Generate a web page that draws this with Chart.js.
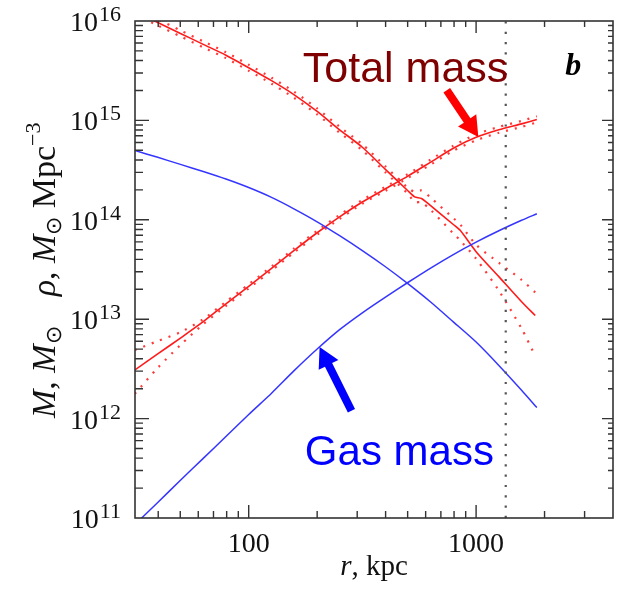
<!DOCTYPE html>
<html>
<head>
<meta charset="utf-8">
<script src="https://cdn.jsdelivr.net/npm/chart.js@4.4.0/dist/chart.umd.min.js"></script>
<style>
  body { margin: 0; background: #fff; }
  canvas { display: block; }
</style>
</head>
<body>
<canvas id="profile" width="621" height="591"></canvas>
<script>
// radius grid, kpc
const radius = [31.6, 39.8, 50.1, 63.1, 79.4, 100, 126, 158, 200, 251, 316, 398, 501, 631, 794, 1000, 1259, 1585, 1850];
// total density profile has its own grid (kink near 540 kpc)
const radiusRho = [31.6, 39.8, 50.1, 63.1, 79.4, 100, 126, 158, 200, 251, 316, 398, 501, 537, 575, 631, 794, 851, 1000, 1259, 1585, 1820];

// total density, M_sun Mpc^-3, with upper / lower error curves
const rhoTotal = [1.24e16, 9.66e15, 7.50e15, 5.82e15, 4.53e15, 3.39e15, 2.51e15, 1.82e15, 1.23e15, 8.05e14, 5.37e14, 3.24e14, 1.96e14, 1.70e14, 1.64e14, 1.39e14, 8.97e13, 7.83e13, 4.78e13, 2.68e13, 1.50e13, 1.09e13];
const rhoTotalHi = [1.33e16, 1.04e16, 8.04e15, 6.24e15, 4.85e15, 3.63e15, 2.69e15, 1.95e15, 1.32e15, 8.63e14, 5.75e14, 3.47e14, 2.10e14, 1.91e14, 1.97e14, 1.67e14, 1.04e14, 8.99e13, 5.61e13, 3.70e13, 2.49e13, 1.86e13];
const rhoTotalLo = [1.16e16, 9.02e15, 7.00e15, 5.43e15, 4.23e15, 3.16e15, 2.34e15, 1.69e15, 1.15e15, 7.52e14, 5.01e14, 3.02e14, 1.83e14, 1.51e14, 1.50e14, 1.26e14, 7.29e13, 6.22e13, 4.06e13, 1.94e13, 8.05e12, 4.26e12];

// total mass, M_sun, with upper / lower error curves
const massTotal = [3.09e12, 4.47e12, 6.46e12, 9.44e12, 1.43e13, 2.14e13, 3.24e13, 4.90e13, 7.41e13, 1.07e14, 1.51e14, 2.04e14, 2.75e14, 3.80e14, 5.25e14, 6.76e14, 8.04e14, 9.23e14, 1.02e15];
const massTotalHi = [4.90e12, 6.03e12, 7.41e12, 1.00e13, 1.50e13, 2.24e13, 3.39e13, 5.13e13, 7.76e13, 1.12e14, 1.58e14, 2.14e14, 2.88e14, 4.03e14, 5.55e14, 7.24e14, 8.61e14, 9.89e14, 1.10e15];
const massTotalLo = [1.78e12, 3.24e12, 5.50e12, 8.91e12, 1.36e13, 2.04e13, 3.09e13, 4.68e13, 7.08e13, 1.02e14, 1.45e14, 1.95e14, 2.63e14, 3.59e14, 4.96e14, 6.31e14, 7.50e14, 8.61e14, 9.55e14];

// gas density and gas mass
const rhoGas = [4.98e14, 4.25e14, 3.61e14, 3.06e14, 2.57e14, 2.11e14, 1.68e14, 1.29e14, 9.55e13, 6.92e13, 4.90e13, 3.39e13, 2.28e13, 1.49e13, 9.40e12, 5.89e12, 3.43e12, 1.93e12, 1.29e12];
const massGas = [8.61e10, 1.43e11, 2.40e11, 3.98e11, 6.61e11, 1.10e12, 1.80e12, 3.02e12, 5.01e12, 7.85e12, 1.16e13, 1.66e13, 2.34e13, 3.27e13, 4.47e13, 5.96e13, 7.76e13, 9.89e13, 1.15e14];

// r500 marker
const rLimit = 1350;

const xTickLabels = [100, 1000];
const yExponents = [11, 12, 13, 14, 15, 16];

const serif = '"Liberation Serif", "Times New Roman", serif';
const sans = '"Liberation Sans", Arial, sans-serif';

const pts = (xs, ys) => xs.map((r, i) => ({ x: r, y: ys[i] }));

const solid = (data, color, width) => ({
    data, showLine: true, pointRadius: 0, borderColor: color, borderWidth: width, tension: 0.25
});
const dotted = (data, color) => ({
    data, showLine: true, pointRadius: 0, borderColor: color, borderWidth: 2.2, borderDash: [2, 7], tension: 0.25
});

// frame with inward ticks on all four sides, labels and annotations
const decor = {
    id: 'decor',
    afterDraw(chart) {
        const { ctx, chartArea: a, scales: { x, y } } = chart;
        ctx.save();

        ctx.strokeStyle = '#333';
        ctx.lineWidth = 1.6;
        ctx.strokeRect(a.left, a.top, a.right - a.left, a.bottom - a.top);

        ctx.lineWidth = 1.4;
        ctx.beginPath();
        for (let d = 10; d <= 1000; d *= 10) {
            for (let k = 1; k <= 9; k++) {
                const v = k * d;
                if (v < x.min * 1.001 || v > x.max * 0.999) continue;
                const px = x.getPixelForValue(v);
                const major = k === 1;
                ctx.moveTo(px, a.bottom); ctx.lineTo(px, a.bottom - (major ? 13 : 7));
                ctx.moveTo(px, a.top); ctx.lineTo(px, a.top + (major ? 12 : 6));
            }
        }
        for (let e = 11; e <= 15; e++) {
            for (let k = 1; k <= 9; k++) {
                const v = k * Math.pow(10, e);
                if (v <= y.min * 1.001) continue;
                const py = y.getPixelForValue(v);
                const major = k === 1;
                ctx.moveTo(a.left, py); ctx.lineTo(a.left + (major ? 14 : 8), py);
                ctx.moveTo(a.right, py); ctx.lineTo(a.right - (major ? 11 : 5), py);
            }
        }
        ctx.stroke();

        // tick labels
        ctx.fillStyle = '#111';
        ctx.textBaseline = 'alphabetic';
        ctx.textAlign = 'center';
        ctx.font = '28px ' + serif;
        xTickLabels.forEach(v => ctx.fillText(String(v), x.getPixelForValue(v), a.bottom + 34));

        ctx.textAlign = 'right';
        yExponents.forEach(e => {
            const py = y.getPixelForValue(Math.pow(10, e));
            ctx.font = '22px ' + serif;
            const sw = ctx.measureText(String(e)).width;
            ctx.fillText(String(e), a.left - 14, py);
            ctx.font = '28px ' + serif;
            ctx.fillText('10', a.left - 15 - sw, py + 10);
        });

        // axis titles
        ctx.textAlign = 'left';
        const runs = (list, x0, y0) => {
            let cx = x0;
            list.forEach(r => {
                ctx.font = r.font;
                ctx.fillText(r.t, cx, y0 + (r.dy || 0));
                cx += ctx.measureText(r.t).width + (r.gap || 0);
            });
            return cx - x0;
        };
        const it = 'italic 29px ' + serif, rm = '29px ' + serif;
        const xTitle = [{ t: 'r', font: it }, { t: ', kpc', font: rm }];
        let w = 0;
        xTitle.forEach(r => { ctx.font = r.font; w += ctx.measureText(r.t).width; });
        runs(xTitle, (a.left + a.right) / 2 - w / 2, a.bottom + 57);

        const yit = 'italic 34px ' + serif, yrm = '34px ' + serif, ysm = '22px ' + serif;
        ctx.save();
        ctx.translate(55, 418);
        ctx.rotate(-Math.PI / 2);
        runs([
            { t: 'M', font: yit }, { t: ', ', font: yrm }, { t: 'M', font: yit },
            { t: '\u2299', font: ysm, dy: 6, gap: 30 },
            { t: '\u03c1', font: yit }, { t: ', ', font: yrm }, { t: 'M', font: yit },
            { t: '\u2299', font: ysm, dy: 6 }, { t: ' Mpc', font: yrm },
            { t: '\u22123', font: ysm, dy: -15 }
        ], 0, 0);
        ctx.restore();

        // labels on the plot
        ctx.font = '43px ' + sans;
        ctx.fillStyle = '#7f0000';
        ctx.fillText('Total mass', x.getPixelForValue(173), y.getPixelForValue(2.43e15));
        ctx.font = '42px ' + sans;
        ctx.fillStyle = '#0000ff';
        ctx.fillText('Gas mass', x.getPixelForValue(176.6), y.getPixelForValue(3.39e11));
        ctx.fillStyle = '#000';
        ctx.font = 'bold italic 32px ' + serif;
        ctx.fillText('b', x.getPixelForValue(2466), y.getPixelForValue(2.85e15));

        // arrows
        const arrow = (from, to, color) => {
            const x0 = x.getPixelForValue(from[0]), y0 = y.getPixelForValue(from[1]);
            const x1 = x.getPixelForValue(to[0]), y1 = y.getPixelForValue(to[1]);
            const ang = Math.atan2(y1 - y0, x1 - x0);
            const len = Math.hypot(x1 - x0, y1 - y0);
            ctx.save();
            ctx.translate(x0, y0);
            ctx.rotate(ang);
            ctx.fillStyle = color;
            ctx.beginPath();
            ctx.moveTo(0, -4); ctx.lineTo(len - 20, -4); ctx.lineTo(len - 20, -11);
            ctx.lineTo(len, 0);
            ctx.lineTo(len - 20, 11); ctx.lineTo(len - 20, 4); ctx.lineTo(0, 4);
            ctx.closePath();
            ctx.fill();
            ctx.restore();
        };
        arrow([743, 2.01e15], [1023, 6.81e14], '#ff0000');
        arrow([283, 1.20e12], [205, 5.25e12], '#0000ff');

        ctx.restore();
    }
};

new Chart(document.getElementById('profile'), {
    type: 'scatter',
    data: {
        datasets: [
            {
                data: [{ x: rLimit, y: 1e11 }, { x: rLimit, y: 1e16 }],
                showLine: true, pointRadius: 0, borderColor: '#555', borderWidth: 2.2, borderDash: [2.2, 8.1]
            },
            solid(pts(radius, rhoGas), '#3535ff', 1.5),
            solid(pts(radius, massGas), '#3535ff', 1.5),
            dotted(pts(radiusRho, rhoTotalHi), '#ff3a3a'),
            dotted(pts(radiusRho, rhoTotalLo), '#ff3a3a'),
            solid(pts(radiusRho, rhoTotal), '#ff1a1a', 1.6),
            dotted(pts(radius, massTotalHi), '#ff3a3a'),
            dotted(pts(radius, massTotalLo), '#ff3a3a'),
            solid(pts(radius, massTotal), '#ff1a1a', 1.6)
        ]
    },
    options: {
        responsive: false,
        animation: false,
        events: [],
        layout: { padding: { left: 135, right: 8, top: 21, bottom: 73 } },
        plugins: { legend: { display: false }, tooltip: { enabled: false } },
        scales: {
            x: { type: 'logarithmic', min: 31.62, max: 4000, display: false },
            y: { type: 'logarithmic', min: 1e11, max: 1e16, display: false }
        }
    },
    plugins: [decor]
});
</script>
</body>
</html>
